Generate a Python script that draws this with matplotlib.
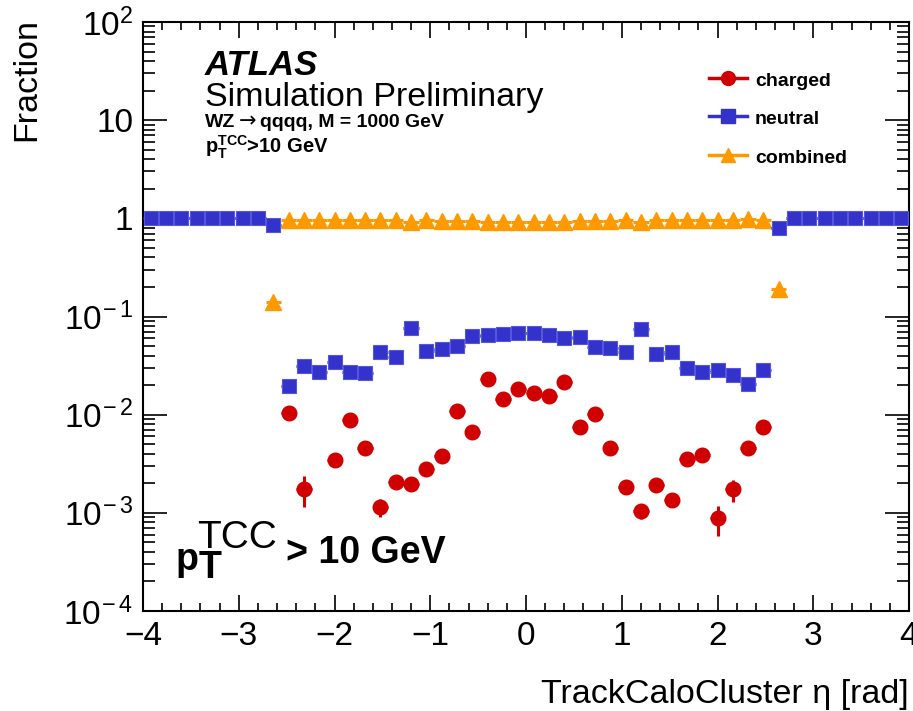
import numpy as np
import matplotlib
matplotlib.use("Agg")
import matplotlib.pyplot as plt
from matplotlib.ticker import FixedLocator, FixedFormatter

plt.rcParams['font.family'] = ['Liberation Sans', 'DejaVu Sans']
plt.rcParams['mathtext.fontset'] = 'custom'
plt.rcParams['mathtext.rm'] = 'Liberation Sans'
plt.rcParams['mathtext.it'] = 'Liberation Sans:italic'
plt.rcParams['mathtext.bf'] = 'Liberation Sans:bold'
plt.rcParams['axes.unicode_minus'] = True

# ---------------- data ----------------
eta = [-3.92, -3.76, -3.60, -3.44, -3.28, -3.12, -2.96, -2.80, -2.64, -2.48,
       -2.32, -2.16, -2.00, -1.84, -1.68, -1.52, -1.36, -1.20, -1.04, -0.88,
       -0.72, -0.56, -0.40, -0.24, -0.08, 0.08, 0.24, 0.40, 0.56, 0.72,
       0.88, 1.04, 1.20, 1.36, 1.52, 1.68, 1.84, 2.00, 2.16, 2.32,
       2.48, 2.64, 2.80, 2.96, 3.12, 3.28, 3.44, 3.60, 3.76, 3.92]
half_width = 0.08
nan = np.nan

charged = [nan, nan, nan, nan, nan, nan, nan, nan, nan, 0.0104,
           0.00176, nan, 0.00344, 0.0089, 0.00462, 0.00114, 0.00207, 0.00196, 0.00279, 0.00375,
           0.0110, 0.00662, 0.0230, 0.0145, 0.0182, 0.0166, 0.0156, 0.0213, 0.00743, 0.0101,
           0.00459, 0.00185, 0.00104, 0.00190, 0.00135, 0.00357, 0.00386, 0.000885, 0.00173, 0.00462,
           0.0075, nan, nan, nan, nan, nan, nan, nan, nan, nan]
charged_err = [0, 0, 0, 0, 0, 0, 0, 0, 0, 0.0006,
               0.0006, 0, 0.0003, 0.0005, 0.0003, 0.00023, 0.0002, 0.0002, 0.0002, 0.0003,
               0.0006, 0.0004, 0.001, 0.0007, 0.0008, 0.0008, 0.0007, 0.001, 0.0005, 0.0006,
               0.0003, 0.0002, 0.00018, 0.0002, 0.0002, 0.0003, 0.0003, 0.0003, 0.00045, 0.0006,
               0.0008, 0, 0, 0, 0, 0, 0, 0, 0, 0]

neutral = [1.0, 1.0, 1.0, 1.0, 1.0, 1.0, 1.0, 1.0, 0.85, 0.0198,
           0.0316, 0.0269, 0.0348, 0.0275, 0.0268, 0.0437, 0.0385, 0.0758, 0.0450, 0.0465,
           0.0502, 0.0634, 0.0644, 0.0660, 0.0686, 0.0675, 0.0649, 0.0605, 0.0615, 0.0487,
           0.0479, 0.0436, 0.0741, 0.0416, 0.0436, 0.0298, 0.0269, 0.0286, 0.0251, 0.0207,
           0.0284, 0.80, 1.0, 1.0, 1.0, 1.0, 1.0, 1.0, 1.0, 1.0]

combined = [nan, nan, nan, nan, nan, nan, nan, nan, 0.139, 0.970,
            0.967, 0.973, 0.962, 0.964, 0.969, 0.955, 0.959, 0.922, 0.952, 0.950,
            0.939, 0.930, 0.913, 0.920, 0.913, 0.916, 0.920, 0.918, 0.931, 0.941,
            0.947, 0.955, 0.925, 0.957, 0.955, 0.967, 0.969, 0.971, 0.973, 0.975,
            0.964, 0.190, nan, nan, nan, nan, nan, nan, nan, nan]

ytick_vals = [1e-4, 1e-3, 1e-2, 1e-1, 1, 10, 100]
ytick_labels = [r'$10^{\!-4}$', r'$10^{\!-3}$', r'$10^{\!-2}$', r'$10^{\!-1}$', '1', '10', r'$10^{2}$']
xtick_vals = [-4, -3, -2, -1, 0, 1, 2, 3, 4]
xtick_labels = ['\u22124', '\u22123', '\u22122', '\u22121', '0', '1', '2', '3', '4']

# ---------------- figure ----------------
W, H = 913, 711
fig = plt.figure(figsize=(W / 100, H / 100), dpi=100)
fig.patch.set_facecolor('white')

def P(x, y):
    return (x / W, 1 - y / H)

left, right, top, bottom = 143, 909, 22, 611
ax = fig.add_axes([left / W, 1 - bottom / H, (right - left) / W, (bottom - top) / H])
ax.set_xlim(-4, 4)
ax.set_yscale('log')
ax.set_ylim(1e-4, 1e2)

RED = '#d10000'
BLUE = '#3333cc'
ORANGE = '#ff9900'

eta_a = np.array(eta)
xerr = np.full(len(eta), half_width)

ax.errorbar(eta_a, combined, xerr=xerr, fmt='^', color=ORANGE, ms=11,
            mec=ORANGE, elinewidth=2.2, capsize=0, zorder=3)
ax.errorbar(eta_a, neutral, xerr=xerr, fmt='s', color=BLUE, ms=10.5,
            mec='#5555dd', mew=0.8, elinewidth=2.2, capsize=0, zorder=4)
ax.errorbar(eta_a, charged, xerr=xerr, yerr=charged_err, fmt='o', color=RED, ms=10.5,
            mec=RED, elinewidth=2.2, capsize=0, zorder=5)

# axes styling
for s in ax.spines.values():
    s.set_linewidth(1.5)
ax.tick_params(which='both', direction='in', top=True, right=True, width=1.2, colors='black')
ax.xaxis.set_tick_params(which='major', length=11.5, labelsize=24, pad=7)
ax.xaxis.set_tick_params(which='minor', length=6)
ax.yaxis.set_tick_params(which='major', length=17, labelsize=24, pad=7)
ax.yaxis.set_tick_params(which='minor', length=8.5)
ax.xaxis.set_major_locator(FixedLocator(xtick_vals))
ax.xaxis.set_major_formatter(FixedFormatter(xtick_labels))
ax.xaxis.set_minor_locator(matplotlib.ticker.MultipleLocator(0.2))
ax.yaxis.set_major_locator(FixedLocator(ytick_vals))
ax.yaxis.set_major_formatter(FixedFormatter(ytick_labels))
ax.yaxis.set_minor_locator(matplotlib.ticker.LogLocator(base=10, subs=np.arange(2, 10), numticks=20))
ax.yaxis.set_minor_formatter(matplotlib.ticker.NullFormatter())

# axis titles
fig.text(*P(909, 703), 'TrackCaloCluster \u03b7 [rad]', ha='right', va='baseline', fontsize=24.5)
fig.text(*P(27, 18), 'Fraction', rotation=90, ha='center', va='top', fontsize=24.5)

# ATLAS labels
fig.text(*P(205, 75), 'ATLAS', fontsize=25, fontweight='bold', fontstyle='italic', va='baseline')
fig.text(*P(205, 106), 'Simulation Preliminary', fontsize=24.5, va='baseline')
fig.text(*P(205, 127), 'WZ', fontsize=14, fontweight='bold', va='baseline')
fig.text(*P(239, 127), '\u2192', fontsize=15, family=['DejaVu Sans'], va='baseline')
fig.text(*P(260, 127), 'qqqq, M = 1000 GeV', fontsize=14, fontweight='bold', va='baseline')
fig.text(*P(205, 153), r'p$_\mathregular{T}^\mathregular{TCC}$>10 GeV', fontsize=14.5,
         fontweight='bold', va='baseline')

# legend (drawn manually, ROOT style)
leg_items = [('charged', RED, 'o', 78), ('neutral', BLUE, 's', 116), ('combined', ORANGE, '^', 155)]
for lab, col, mk, yy in leg_items:
    x0, y0 = P(709, yy)
    x1, _ = P(747, yy)
    xm, _ = P(728, yy)
    fig.add_artist(matplotlib.lines.Line2D([x0, x1], [y0, y0], color=col, lw=2.5,
                                           transform=fig.transFigure))
    fig.add_artist(matplotlib.lines.Line2D([xm], [y0], color=col, marker=mk, ms=10,
                                           transform=fig.transFigure))
    fig.text(*P(755, yy + 8), lab, fontsize=14, fontweight='bold', va='baseline')

# big pT label
fig.text(*P(176, 570), 'p', fontsize=27, fontweight='bold', va='baseline')
fig.text(*P(199, 578), 'T', fontsize=27, fontweight='bold', va='baseline')
fig.text(*P(197, 548), 'TCC', fontsize=28, va='baseline')
fig.text(*P(286, 563), '> 10 GeV', fontsize=27, fontweight='bold', va='baseline')

fig.savefig('out.png', dpi=100)
